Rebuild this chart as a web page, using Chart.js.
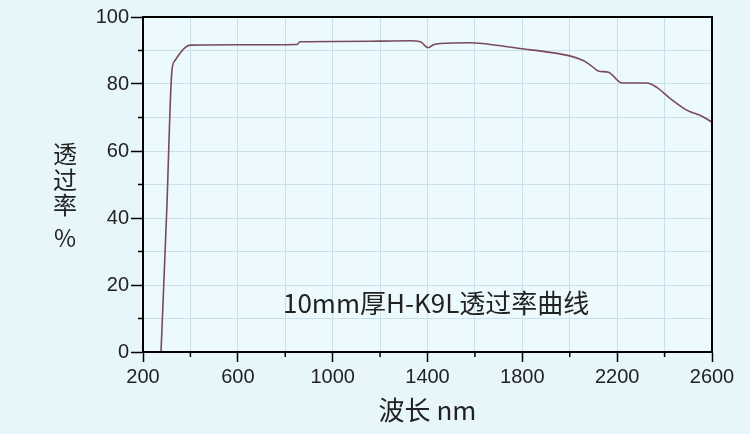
<!DOCTYPE html>
<html>
<head>
<meta charset="utf-8">
<script src="https://cdn.jsdelivr.net/npm/chart.js@4"></script>
<style>
  html, body { margin: 0; padding: 0; background: #e7f6fa; }
  #wrap { width: 750px; height: 434px; }
</style>
</head>
<body>
<div id="wrap"><canvas id="curva"></canvas></div>
<script>
// wavelength (nm) and transmittance (%)
const wavelength = [276, 300, 322, 335, 356, 380, 400, 600, 850, 862, 1000, 1200, 1330, 1370, 1403, 1425, 1453, 1580, 1700, 1790, 1900, 2000, 2057, 2090, 2120, 2163, 2220, 2325, 2367, 2423, 2493, 2560, 2600];
const transmittance = [0, 42, 84, 87, 89.2, 91, 91.6, 91.7, 91.8, 92.6, 92.7, 92.8, 92.9, 92.6, 90.8, 91.7, 92.1, 92.3, 91.5, 90.6, 89.6, 88.4, 87, 85.5, 83.9, 83.5, 80.3, 80.3, 79, 75.7, 72.2, 70.3, 68.6];
const xTicks = [200, 600, 1000, 1400, 1800, 2200, 2600];
const yTicks = [0, 20, 40, 60, 80, 100];
const yTitle = ['透', '过', '率', '%'];
const xTitle = '波长 nm';
const note = '10mm厚H-K9L透过率曲线';

const pts = wavelength.map((w, i) => ({ x: w, y: transmittance[i] }));

const decor = {
    id: 'decor',
    beforeDraw(chart) {
        const c = chart.ctx, a = chart.chartArea;
        c.save();
        c.fillStyle = '#e7f6fa';
        c.fillRect(0, 0, chart.width, chart.height);
        c.fillStyle = '#ecfafd';
        c.fillRect(a.left, a.top, a.right - a.left, a.bottom - a.top);
        c.restore();
    },
    afterDraw(chart) {
        const c = chart.ctx, a = chart.chartArea;
        const sx = chart.scales.x, sy = chart.scales.y;
        c.save();
        c.strokeStyle = '#000';
        c.lineWidth = 2;
        c.strokeRect(a.left, a.top, a.right - a.left, a.bottom - a.top);

        // short minor tick marks
        c.lineWidth = 1.5;
        c.beginPath();
        sx.ticks.forEach(t => {
            if (xTicks.includes(t.value)) return;
            const px = sx.getPixelForValue(t.value);
            c.moveTo(px, a.bottom);
            c.lineTo(px, a.bottom + 5);
        });
        sy.ticks.forEach(t => {
            if (yTicks.includes(t.value)) return;
            const py = sy.getPixelForValue(t.value);
            c.moveTo(a.left, py);
            c.lineTo(a.left - 5, py);
        });
        c.stroke();

        c.fillStyle = '#222';
        c.textAlign = 'center';
        c.textBaseline = 'middle';
        c.font = '24px "Noto Sans CJK SC"';
        const ys = [154, 180, 205, 238];
        yTitle.forEach((ch, i) => c.fillText(ch, 65, ys[i]));

        c.font = '26px "Noto Sans CJK SC"';
        c.fillText(xTitle, (a.left + a.right) / 2, 410);

        c.textAlign = 'left';
        c.fillText(note, 283, 303);
        c.restore();
    }
};

const major = (list) => ctx => list.includes(ctx.tick.value) ? '#000' : 'rgba(0,0,0,0)';

new Chart(document.getElementById('curva'), {
    type: 'line',
    data: {
        datasets: [{
            data: pts,
            borderColor: '#7a4a5b',
            borderWidth: 1.6,
            pointRadius: 0,
            cubicInterpolationMode: 'monotone'
        }]
    },
    options: {
        responsive: true,
        maintainAspectRatio: false,
        animation: false,
        layout: { padding: { left: 0, top: 17, right: 38, bottom: 0 } },
        plugins: {
            legend: { display: false },
            tooltip: { enabled: false }
        },
        scales: {
            x: {
                type: 'linear',
                min: 200,
                max: 2600,
                afterFit: s => { s.height = 82; },
                border: { color: '#000', width: 2 },
                grid: { color: '#c9e0ec', tickColor: major(xTicks), tickWidth: 1.5, tickLength: 10, lineWidth: 1 },
                ticks: {
                    stepSize: 200,
                    autoSkip: false,
                    maxRotation: 0,
                    padding: 3,
                    color: '#222',
                    font: { family: 'Liberation Sans', size: 20 },
                    callback: v => xTicks.includes(v) ? String(v) : ''
                }
            },
            y: {
                min: 0,
                max: 100,
                afterFit: s => { s.width = 143; },
                border: { color: '#000', width: 2 },
                grid: { color: '#c9e0ec', tickColor: major(yTicks), tickWidth: 1.5, tickLength: 12, lineWidth: 1 },
                ticks: {
                    stepSize: 10,
                    autoSkip: false,
                    padding: 2,
                    color: '#222',
                    font: { family: 'Liberation Sans', size: 20 },
                    callback: v => yTicks.includes(v) ? String(v) : ''
                }
            }
        }
    },
    plugins: [decor]
});
</script>
</body>
</html>
